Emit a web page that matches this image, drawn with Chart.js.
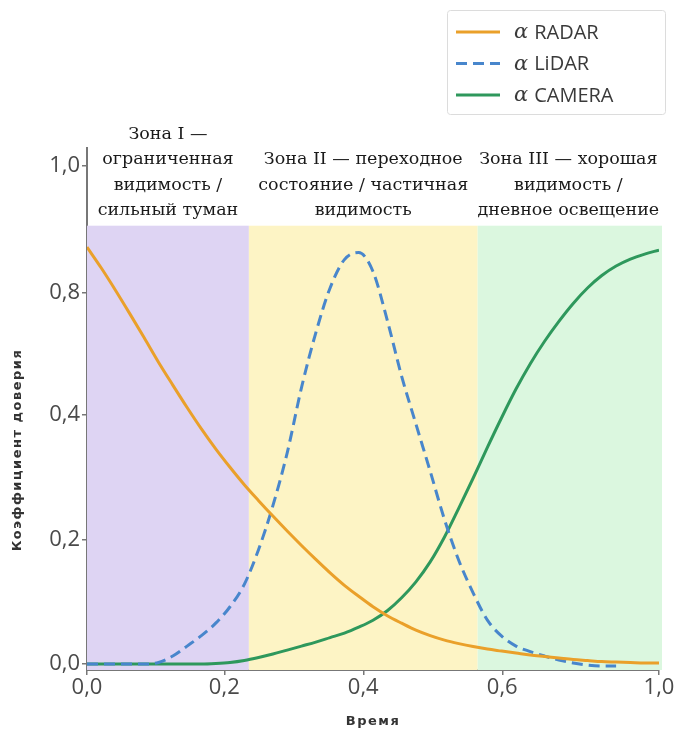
<!DOCTYPE html>
<html>
<head>
<meta charset="utf-8">
<script src="https://cdn.jsdelivr.net/npm/chart.js@4.4.1/dist/chart.umd.min.js"></script>
<style>
  html, body { margin: 0; padding: 0; background: #fff; }
  #wrap { width: 680px; height: 739px; }
</style>
</head>
<body>
<div id="wrap"><canvas id="chart"></canvas></div>
<script>
// time axis (position along the plotted span, 0 .. 1)
const times = [0, 0.025, 0.05, 0.075, 0.1, 0.125, 0.15, 0.175, 0.2, 0.225,
  0.25, 0.275, 0.3, 0.325, 0.35, 0.375, 0.4, 0.425, 0.45, 0.475,
  0.5, 0.525, 0.55, 0.575, 0.6, 0.625, 0.65, 0.675, 0.7, 0.725,
  0.75, 0.775, 0.8, 0.825, 0.85, 0.875, 0.9, 0.925, 0.95, 0.975, 1]

const radar = [0.837, 0.795, 0.750, 0.703, 0.655, 0.606, 0.560, 0.515, 0.472, 0.432,
  0.395, 0.360, 0.328, 0.297, 0.267, 0.238, 0.210, 0.183, 0.158, 0.136,
  0.115, 0.097, 0.082, 0.068, 0.057, 0.048, 0.041, 0.035, 0.030, 0.026,
  0.022, 0.018, 0.015, 0.012, 0.009, 0.007, 0.005, 0.004, 0.003, 0.002, 0.002]

const lidar = [0, 0, 0, 0, 0, 0.003, 0.016, 0.036, 0.057, 0.082,
  0.115, 0.160, 0.230, 0.318, 0.424, 0.555, 0.665, 0.755, 0.812, 0.826,
  0.788, 0.690, 0.578, 0.482, 0.387, 0.290, 0.208, 0.143, 0.088, 0.056,
  0.036, 0.025, 0.016, 0.008, 0.002, -0.002, -0.004, -0.004, null, null, null]

const camera = [0, 0, 0, 0, 0, 0, 0, 0, 0, 0.001,
  0.003, 0.007, 0.013, 0.020, 0.028, 0.036, 0.044, 0.053, 0.062, 0.074,
  0.088, 0.107, 0.133, 0.165, 0.205, 0.255, 0.313, 0.373, 0.435, 0.495,
  0.552, 0.603, 0.648, 0.688, 0.724, 0.755, 0.780, 0.799, 0.813, 0.823, 0.831]

const seriesNames = ['RADAR', 'LiDAR', 'CAMERA']

const xTickPos = [0, 0.24, 0.483, 0.726, 1]
const xTickLabels = ['0,0', '0,2', '0,4', '0,6', '1,0']
const yTickPos = [0, 0.25, 0.5, 0.745, 1]
const yTickLabels = ['0,0', '0,2', '0,4', '0,8', '1,0']
const xTitle = 'Время'
const yTitle = 'Коэффициент доверия'

const zoneEdges = [0, 0.283, 0.683, 1]
const zoneTop = 0.88
const zoneLabels = [
  ['Зона I —', 'ограниченная', 'видимость /', 'сильный туман'],
  ['Зона II — переходное', 'состояние / частичная', 'видимость'],
  ['Зона III — хорошая', 'видимость /', 'дневное освещение']
]

const zoneColors = ['rgb(222,212,243)', 'rgb(253,244,197)', 'rgb(219,247,223)']
const lineColors = ['rgb(234,160,42)', 'rgb(72,134,204)', 'rgb(46,152,92)']

const zonesPlugin = {
    id: 'zones',
    beforeDatasetsDraw(chart) {
        const { ctx, chartArea } = chart
        const x = chart.scales.x
        const y = chart.scales.y
        const top = y.getPixelForValue(zoneTop)
        ctx.save()
        for (let i = 0; i < zoneColors.length; i++) {
            const x0 = x.getPixelForValue(zoneEdges[i])
            const x1 = x.getPixelForValue(zoneEdges[i + 1]) + (i === zoneColors.length - 1 ? 3 : 0)
            ctx.fillStyle = zoneColors[i]
            ctx.fillRect(x0, top, x1 - x0, chartArea.bottom - top)
        }
        ctx.restore()
    },
    afterDraw(chart) {
        const { ctx, chartArea } = chart
        const x = chart.scales.x
        const y = chart.scales.y
        const top = y.getPixelForValue(zoneTop)
        ctx.save()
        ctx.font = '17.5px "DejaVu Serif"'
        ctx.fillStyle = '#1a1a1a'
        ctx.textAlign = 'center'
        ctx.textBaseline = 'middle'
        zoneLabels.forEach((lines, i) => {
            const cx = (x.getPixelForValue(zoneEdges[i]) + x.getPixelForValue(zoneEdges[i + 1])) / 2
            const n = lines.length
            lines.forEach((line, j) => {
                ctx.fillText(line, cx, top - 15 - (n - 1 - j) * 25.5)
            })
        })

        // axis titles
        ctx.font = 'bold 13px "DejaVu Sans"'
        ctx.fillStyle = '#333'
        ctx.letterSpacing = '1.5px'
        ctx.fillText(xTitle, (chartArea.left + chartArea.right) / 2, 722)
        ctx.save()
        ctx.translate(18, 450)
        ctx.rotate(-Math.PI / 2)
        ctx.fillText(yTitle, 0, 0)
        ctx.restore()
        ctx.letterSpacing = '0px'

        // legend box
        const bx = 447, by = 10, bw = 218, bh = 104
        ctx.strokeStyle = '#dcdcdc'
        ctx.lineWidth = 1
        ctx.beginPath()
        ctx.roundRect(bx + 0.5, by + 0.5, bw, bh, 3)
        ctx.stroke()
        chart.data.datasets.forEach((ds, i) => {
            const ry = by + 22 + i * 31.5
            ctx.strokeStyle = ds.borderColor
            ctx.lineWidth = 3
            ctx.setLineDash(ds.borderDash || [])
            ctx.beginPath()
            ctx.moveTo(bx + 9, ry)
            ctx.lineTo(bx + 53, ry)
            ctx.stroke()
            ctx.setLineDash([])
            ctx.fillStyle = '#3a3a3a'
            ctx.textAlign = 'left'
            ctx.font = 'italic 21px "DejaVu Serif"'
            ctx.fillText('α', bx + 67, ry + 1)
            const aw = ctx.measureText('α').width + 6
            ctx.font = '20px "Open Sans"'
            ctx.fillText(seriesNames[i], bx + 67 + aw, ry + 1)
        })
        ctx.restore()
    }
}

const tickFont = { family: '"Open Sans"', size: 22 }

new Chart(document.getElementById('chart'), {
    type: 'line',
    data: {
        labels: times,
        datasets: [
            { label: 'α ' + seriesNames[0], data: radar, borderColor: lineColors[0] },
            { label: 'α ' + seriesNames[1], data: lidar, borderColor: lineColors[1], borderDash: [11, 6] },
            { label: 'α ' + seriesNames[2], data: camera, borderColor: lineColors[2] }
        ].map(ds => Object.assign({
            borderWidth: 3,
            pointRadius: 0,
            fill: false,
            cubicInterpolationMode: 'monotone'
        }, ds))
    },
    options: {
        responsive: true,
        maintainAspectRatio: false,
        animation: false,
        layout: { padding: { top: 148, right: 21, left: 0, bottom: 0 } },
        plugins: {
            legend: { display: false },
            tooltip: { enabled: false }
        },
        scales: {
            x: {
                type: 'linear',
                min: 0,
                max: 1,
                afterBuildTicks: scale => { scale.ticks = xTickPos.map(v => ({ value: v })) },
                afterFit: scale => { scale.height = 69 },
                ticks: {
                    font: tickFont,
                    color: '#4a4a4a',
                    padding: 0,
                    maxRotation: 0,
                    autoSkip: false,
                    callback: (v, i) => xTickLabels[i]
                },
                grid: { drawOnChartArea: false, drawTicks: true, tickLength: 5, color: '#777', lineWidth: 1.5 },
                border: { display: true, color: '#777', width: 2 }
            },
            y: {
                type: 'linear',
                min: -0.012,
                max: 1.036,
                afterBuildTicks: scale => { scale.ticks = yTickPos.map(v => ({ value: v })) },
                afterFit: scale => { scale.width = 87 },
                ticks: {
                    font: tickFont,
                    color: '#4a4a4a',
                    padding: 2,
                    autoSkip: false,
                    callback: (v, i) => yTickLabels[i]
                },
                grid: { drawOnChartArea: false, drawTicks: true, tickLength: 5, color: '#777', lineWidth: 1.5 },
                border: { display: true, color: '#777', width: 2 }
            }
        }
    },
    plugins: [zonesPlugin]
})
</script>
</body>
</html>
